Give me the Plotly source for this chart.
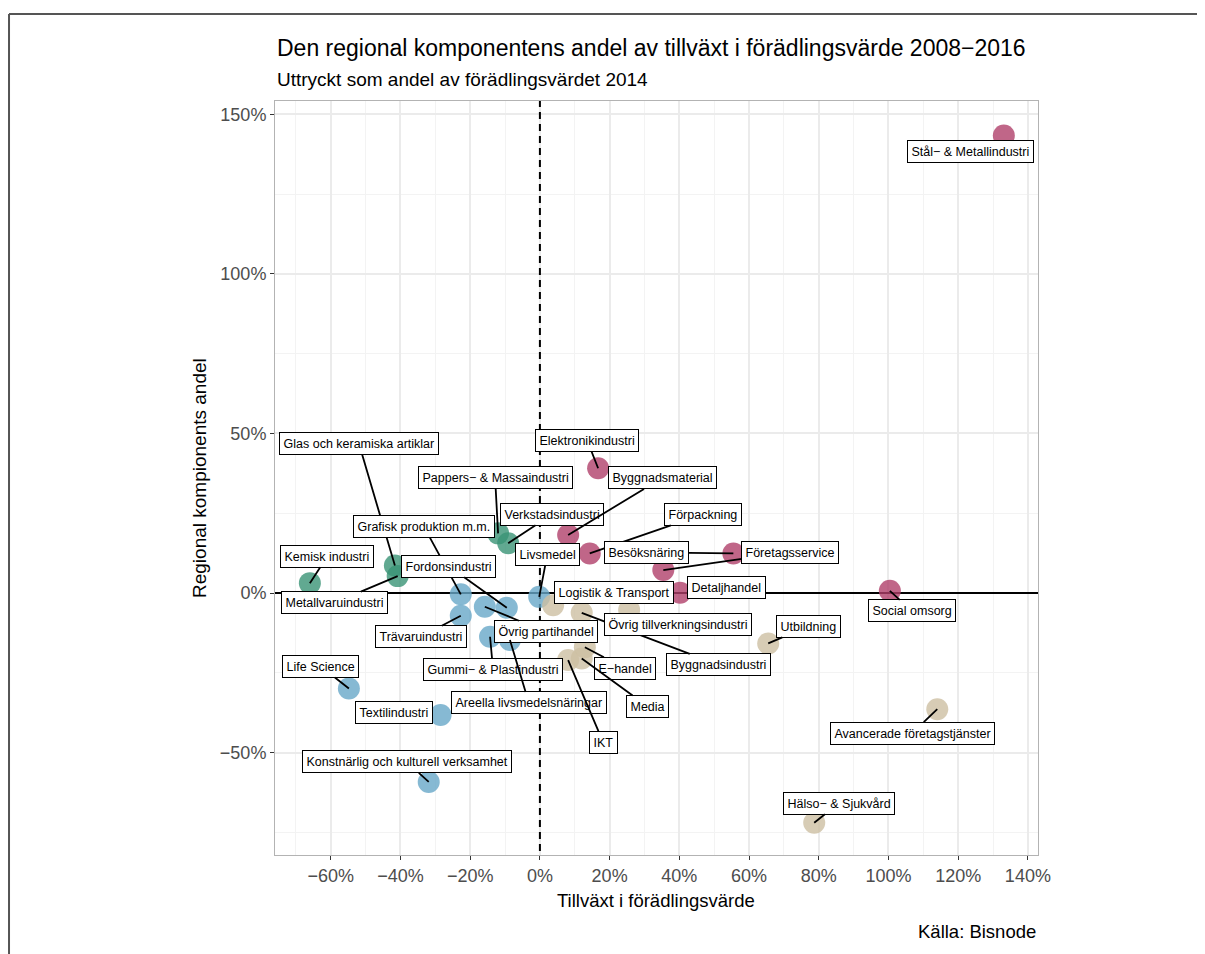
import plotly.graph_objects as go

# ---------------- data ----------------
names = [
    "Kemisk industri", "Glas och keramiska artiklar", "Metallvaruindustri",
    "Pappers− & Massaindustri", "Verkstadsindustri",
    "Grafisk produktion m.m.", "Trävaruindustri", "Övrig partihandel", "Fordonsindustri",
    "Gummi− & Plastindustri", "Areella livsmedelsnäringar", "Livsmedel", "Life Science",
    "Textilindustri", "Konstnärlig och kulturell verksamhet",
    "Elektronikindustri", "Byggnadsmaterial", "Förpackning", "Besöksnäring",
    "Företagsservice", "Detaljhandel", "Social omsorg", "Stål− & Metallindustri",
    "Logistik & Transport", "Byggnadsindustri", "Övrig tillverkningsindustri", "E−handel",
    "Media", "IKT", "Utbildning", "Avancerade företagstjänster", "Hälso− & Sjukvård",
]
groups = ["A"] * 5 + ["B"] * 10 + ["C"] * 8 + ["D"] * 9
growth = [
    -66.0, -41.6, -40.8, -12.0, -9.1,
    -22.7, -22.7, -15.8, -9.5, -14.3, -8.6, -0.2, -54.8, -28.5, -31.9,
    16.7, 8.1, 14.3, 55.5, 35.4, 40.2, 100.4, 133.1,
    3.8, 12.0, 25.6, 12.9, 12.0, 8.1, 65.5, 114.0, 78.7,
]
regional = [
    3.1, 8.6, 5.3, 18.7, 15.6,
    -0.4, -7.1, -4.3, -4.6, -13.7, -14.7, -1.2, -29.9, -38.2, -59.2,
    39.1, 18.2, 12.4, 12.4, 7.2, 0.1, 0.7, 143.4,
    -3.8, -6.2, -5.3, -17.0, -20.5, -21.0, -15.8, -36.4, -72.0,
]
x_ticks = [-60, -40, -20, 0, 20, 40, 60, 80, 100, 120, 140]
y_ticks = [-50, 0, 50, 100, 150]
x_range = [-76.0, 142.9]
y_range = [-82.1, 154.2]


def pct(v):
    return ("−" if v < 0 else "") + f"{abs(v)}%"


# ---------------- styling / layout ----------------
group_colors = {"A": "#3A9475", "B": "#68A8C8", "C": "#B0406A", "D": "#CDBFA3"}

# label offsets in pixels (ax, ay)
label_offset = {
    "Stål− & Metallindustri": (-33.5, 15.6),
    "Elektronikindustri": (-11, -28),
    "Byggnadsmaterial": (94, -57),
    "Förpackning": (113, -39),
    "Besöksnäring": (-87, -1),
    "Företagsservice": (127, -18),
    "Detaljhandel": (46, -5),
    "Social omsorg": (22, 20),
    "Avancerade företagstjänster": (-25, 24),
    "Hälso− & Sjukvård": (24.5, -19.5),
    "Utbildning": (40, -17),
    "Byggnadsindustri": (137, 52),
    "Övrig tillverkningsindustri": (49, 15),
    "E−handel": (40, 21),
    "Media": (66, 48),
    "IKT": (35, 82),
    "Logistik & Transport": (61, -13),
    "Areella livsmedelsnäringar": (19, 63),
    "Gummi− & Plastindustri": (3, 33),
    "Övrig partihandel": (61, 25),
    "Trävaruindustri": (-40, 21),
    "Life Science": (-28, -22),
    "Textilindustri": (-47, -2.5),
    "Konstnärlig och kulturell verksamhet": (-22, -20),
    "Metallvaruindustri": (-63, 26.5),
    "Kemisk industri": (17.5, -27),
    "Glas och keramiska artiklar": (-36, -122),
    "Grafisk produktion m.m.": (-37, -68),
    "Fordonsindustri": (-58, -41.5),
    "Pappers− & Massaindustri": (-3, -56),
    "Verkstadsindustri": (44, -29),
    "Livsmedel": (8, -42),
}
no_segment = {"Stål− & Metallindustri", "Detaljhandel", "Logistik & Transport",
              "Övrig tillverkningsindustri", "Textilindustri"}

FONT = "Liberation Sans, Arial, Helvetica, sans-serif"

fig = go.Figure()

# reference lines (drawn under the points)
fig.add_trace(go.Scatter(x=[x_range[0] - 10, x_range[1] + 10], y=[0, 0], mode="lines",
                         line=dict(color="black", width=2), hoverinfo="skip",
                         showlegend=False))
fig.add_trace(go.Scatter(x=[0, 0], y=[y_range[0] - 10, y_range[1] + 10], mode="lines",
                         line=dict(color="black", width=2, dash="7px,5px"),
                         hoverinfo="skip", showlegend=False))

for g in ["A", "B", "C", "D"]:
    idx = [i for i, gg in enumerate(groups) if gg == g]
    fig.add_trace(go.Scatter(
        x=[growth[i] for i in idx],
        y=[regional[i] for i in idx],
        mode="markers",
        marker=dict(size=22, color=group_colors[g], opacity=0.8, line=dict(width=0)),
        text=[names[i] for i in idx],
        hoverinfo="text",
        showlegend=False,
    ))

annotations = []
for i, n in enumerate(names):
    ax, ay = label_offset[n]
    annotations.append(dict(
        x=growth[i], y=regional[i], xref="x", yref="y",
        text=n, showarrow=True, ax=ax, ay=ay, axref="pixel", ayref="pixel",
        arrowhead=0, arrowwidth=1.8, standoff=0,
        arrowcolor="rgba(0,0,0,0)" if n in no_segment else "black",
        font=dict(family=FONT, size=12.5, color="black"),
        bgcolor="white", bordercolor="black", borderwidth=1, borderpad=3.5,
    ))

# titles and captions
annotations += [
    dict(text="Den regional komponentens andel av tillväxt i förädlingsvärde 2008−2016",
         xref="paper", yref="paper", x=0, y=1.0703, xanchor="left", yanchor="middle",
         showarrow=False, font=dict(family=FONT, size=23, color="black")),
    dict(text="Uttryckt som andel av förädlingsvärdet 2014",
         xref="paper", yref="paper", x=0, y=1.0279, xanchor="left", yanchor="middle",
         showarrow=False, font=dict(family=FONT, size=19, color="black")),
    dict(text="Tillväxt i förädlingsvärde", xref="paper", yref="paper",
         x=0.4993, y=-0.0597, xanchor="center", yanchor="middle", showarrow=False,
         font=dict(family=FONT, size=18.5, color="black")),
    dict(text="Regional kompionents andel", xref="paper", yref="paper",
         x=-0.0996, y=0.5, xanchor="center", yanchor="middle", showarrow=False,
         textangle=-90, font=dict(family=FONT, size=19, color="black")),
    dict(text="Källa: Bisnode", xref="paper", yref="paper",
         x=1, y=-0.102, xanchor="right", yanchor="middle", showarrow=False,
         font=dict(family=FONT, size=18.5, color="black")),
]

shapes = [
    # outer frame (top and left)
    dict(type="line", xref="paper", yref="paper", x0=-0.3486, x1=1.2189, y0=1.1154, y1=1.1154,
         line=dict(color="#555555", width=2)),
    dict(type="line", xref="paper", yref="paper", x0=-0.3486, x1=-0.3486, y0=1.1154, y1=-0.14,
         line=dict(color="#555555", width=2)),
]

axis_common = dict(
    showgrid=True, gridcolor="#EBEBEB", gridwidth=1.5,
    zeroline=False, showline=True, mirror=True, linecolor="#B3B3B3", linewidth=1,
    ticks="outside", ticklen=4, tickcolor="#333333", tickwidth=1,
    tickfont=dict(family=FONT, size=18, color="#4D4D4D"),
)

# The page body has an 8px margin, so the figure is placed at (8, 8).
fig.update_layout(
    width=1197, height=946,
    margin=dict(l=267, r=167, t=93, b=99, autoexpand=False),
    paper_bgcolor="white", plot_bgcolor="white",
    xaxis=dict(range=x_range, tickmode="array", tickvals=x_ticks,
               ticktext=[pct(v) for v in x_ticks],
               minor=dict(tickvals=[v + 10 for v in x_ticks] + [-70], showgrid=True,
                          gridcolor="#F3F3F3", gridwidth=0.9, ticklen=0),
               **axis_common),
    yaxis=dict(range=y_range, tickmode="array", tickvals=y_ticks,
               ticktext=[pct(v) for v in y_ticks],
               minor=dict(tickvals=[-75, -25, 25, 75, 125], showgrid=True,
                          gridcolor="#F3F3F3", gridwidth=0.9, ticklen=0),
               **axis_common),
    annotations=annotations,
    shapes=shapes,
    showlegend=False,
)

fig.write_html("out.html")
